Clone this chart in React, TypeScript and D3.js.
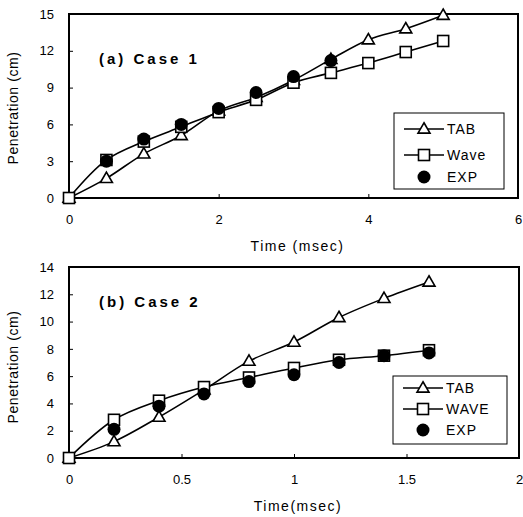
import { useEffect, useRef } from 'react';
import * as d3 from 'd3';

// Case 1 (time in msec, penetration in cm)
const timeA = [0, 0.5, 1, 1.5, 2, 2.5, 3, 3.5, 4, 4.5, 5];
const tabA = [0, 1.6, 3.6, 5.1, 7.1, 8.2, 9.6, 11.3, 12.9, 13.8, 14.9];
const waveA = [0, 3.1, 4.6, 5.8, 7.0, 8.0, 9.4, 10.2, 11.0, 11.9, 12.8];
const expTimeA = [0.5, 1, 1.5, 2, 2.5, 3, 3.5];
const expA = [3.0, 4.8, 6.0, 7.3, 8.6, 9.9, 11.2];
const xTicksA = [0, 2, 4, 6];
const yTicksA = [0, 3, 6, 9, 12, 15];

// Case 2
const timeB = [0, 0.2, 0.4, 0.6, 0.8, 1, 1.2, 1.4, 1.6];
const tabB = [0, 1.2, 3.0, 5.0, 7.1, 8.5, 10.3, 11.7, 12.9];
const waveB = [0, 2.8, 4.2, 5.2, 5.9, 6.6, 7.2, 7.5, 7.9];
const expTimeB = [0.2, 0.4, 0.6, 0.8, 1, 1.2, 1.4, 1.6];
const expB = [2.1, 3.8, 4.7, 5.6, 6.1, 7.0, 7.5, 7.7];
const xTicksB = [0, 0.5, 1, 1.5, 2];
const yTicksB = [0, 2, 4, 6, 8, 10, 12, 14];

const FONT = "'Liberation Sans', Arial, sans-serif";

const drawMarker = (g, kind, cx, cy) => {
  if (kind === 'tri') {
    const s = 12;
    const h = s * 0.866;
    g.append('path')
      .attr('d', `M${cx},${cy - h * 0.6}L${cx + s / 2},${cy + h * 0.4}L${cx - s / 2},${cy + h * 0.4}Z`)
      .attr('fill', '#fff').attr('stroke', '#000').attr('stroke-width', 1.6);
  } else if (kind === 'sq') {
    const s = 11;
    g.append('rect')
      .attr('x', cx - s / 2).attr('y', cy - s / 2).attr('width', s).attr('height', s)
      .attr('fill', '#fff').attr('stroke', '#000').attr('stroke-width', 1.6);
  } else {
    g.append('circle').attr('cx', cx).attr('cy', cy).attr('r', 6.5).attr('fill', '#000');
  }
};

const drawPanel = (svg, opts) => {
  const { x, y, xTicks, yTicks, time, tab, wave, expTime, exp, title, titleY, legend, waveName, xLabel, xLabelY, yLabelY } = opts;
  const g = svg.append('g');
  const [x0, x1] = x.range();
  const [y0, y1] = y.range();

  g.append('rect')
    .attr('x', x0).attr('y', y1).attr('width', x1 - x0).attr('height', y0 - y1)
    .attr('fill', 'none').attr('stroke', '#000').attr('stroke-width', 2);

  const ya = g.append('g').attr('transform', `translate(${x0},0)`)
    .call(d3.axisLeft(y).tickValues(yTicks).tickSizeInner(-4).tickSizeOuter(0).tickPadding(15));
  ya.select('.domain').remove();
  ya.selectAll('text').style('font-family', FONT).style('font-size', '13px');

  const xa = g.append('g').attr('transform', `translate(0,${y0})`)
    .call(d3.axisBottom(x).tickValues(xTicks).tickFormat(d3.format('')).tickSizeInner(-4).tickSizeOuter(0).tickPadding(17));
  xa.select('.domain').remove();
  xa.selectAll('text').style('font-family', FONT).style('font-size', '13px');

  g.append('text')
    .attr('transform', `translate(18,${yLabelY}) rotate(-90)`)
    .attr('text-anchor', 'middle')
    .style('font-family', FONT).style('font-size', '14px').style('letter-spacing', '0.6px')
    .text('Penetration (cm)');

  g.append('text')
    .attr('x', (x0 + x1) / 2 + 4).attr('y', xLabelY)
    .attr('text-anchor', 'middle')
    .style('font-family', FONT).style('font-size', '14px').style('letter-spacing', '1.5px')
    .text(xLabel);

  g.append('text')
    .attr('x', 99).attr('y', titleY)
    .style('font-family', FONT).style('font-size', '15px').style('font-weight', 'bold').style('letter-spacing', '3px')
    .text(title);

  const line = d3.line().x(d => x(d[0])).y(d => y(d[1])).curve(d3.curveCatmullRom.alpha(0.5));
  g.append('path').datum(time.map((t, i) => [t, tab[i]]))
    .attr('d', line).attr('fill', 'none').attr('stroke', '#000').attr('stroke-width', 1.6);
  g.append('path').datum(time.map((t, i) => [t, wave[i]]))
    .attr('d', line).attr('fill', 'none').attr('stroke', '#000').attr('stroke-width', 1.6);

  time.forEach((t, i) => drawMarker(g, 'tri', x(t), y(tab[i])));
  time.forEach((t, i) => drawMarker(g, 'sq', x(t), y(wave[i])));
  expTime.forEach((t, i) => drawMarker(g, 'dot', x(t), y(exp[i])));

  // legend
  const { lx, ly, lw, lh, rows } = legend;
  g.append('rect')
    .attr('x', lx).attr('y', ly).attr('width', lw).attr('height', lh)
    .attr('fill', '#fff').attr('stroke', '#000').attr('stroke-width', 1);
  const names = ['TAB', waveName, 'EXP'];
  const kinds = ['tri', 'sq', 'dot'];
  names.forEach((n, i) => {
    const ry = rows[i];
    if (i < 2) {
      g.append('line').attr('x1', lx + 10).attr('x2', lx + 50).attr('y1', ry).attr('y2', ry)
        .attr('stroke', '#000').attr('stroke-width', 1.6);
    }
    drawMarker(g, kinds[i], lx + 30, ry);
    g.append('text')
      .attr('x', lx + 53).attr('y', ry + 5)
      .style('font-family', FONT).style('font-size', '14px').style('letter-spacing', '1px')
      .text(n);
  });
};

const App = () => {
  const svgRef = useRef(null);

  useEffect(() => {
    const svg = d3.select(svgRef.current);
    svg.selectAll('*').remove();

    drawPanel(svg, {
      x: d3.scaleLinear().domain([0, 6]).range([69, 518]),
      y: d3.scaleLinear().domain([0, 15]).range([198, 14]),
      xTicks: xTicksA, yTicks: yTicksA,
      time: timeA, tab: tabA, wave: waveA, expTime: expTimeA, exp: expA,
      title: '(a) Case 1', titleY: 64,
      waveName: 'Wave',
      xLabel: 'Time (msec)', xLabelY: 251, yLabelY: 108,
      legend: { lx: 394, ly: 113, lw: 110, lh: 76, rows: [129, 155, 177] },
    });

    drawPanel(svg, {
      x: d3.scaleLinear().domain([0, 2]).range([69, 519]),
      y: d3.scaleLinear().domain([0, 14]).range([458, 267]),
      xTicks: xTicksB, yTicks: yTicksB,
      time: timeB, tab: tabB, wave: waveB, expTime: expTimeB, exp: expB,
      title: '(b) Case 2', titleY: 307,
      waveName: 'WAVE',
      xLabel: 'Time(msec)', xLabelY: 511, yLabelY: 367,
      legend: { lx: 393, ly: 376, lw: 114, lh: 68, rows: [388, 409, 430] },
    });
  }, []);

  return (
    <svg ref={svgRef} width={523} height={517}
      style={{ position: 'absolute', left: 0, top: 0, background: '#fff' }} />
  );
};

export default App;
